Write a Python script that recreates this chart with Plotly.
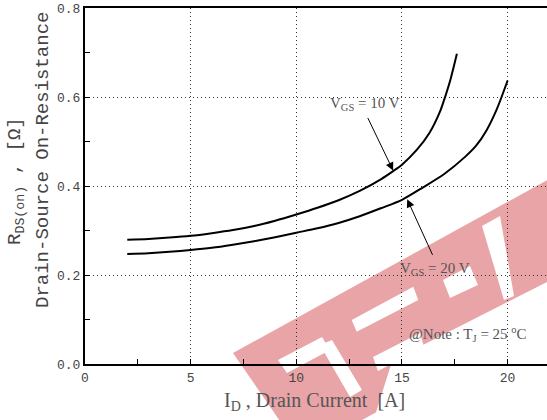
import plotly.graph_objects as go

# ---- data ----
id_10v = [2, 3, 4, 5, 6, 7, 8, 9, 10, 11, 12, 13, 14, 14.6, 15, 15.7, 16.3, 16.8, 17.0, 17.3, 17.6]
rds_10v = [0.279, 0.281, 0.284, 0.288, 0.294, 0.301, 0.310, 0.322, 0.336, 0.351, 0.368, 0.389,
           0.415, 0.434, 0.448, 0.481, 0.519, 0.567, 0.594, 0.640, 0.697]
id_20v = [2, 3, 4, 5, 6, 7, 8, 9, 10, 11, 12, 13, 14, 15, 16, 17, 18, 18.5, 19, 19.5, 20.0]
rds_20v = [0.247, 0.249, 0.252, 0.256, 0.261, 0.268, 0.276, 0.285, 0.295, 0.305, 0.317, 0.332,
           0.350, 0.369, 0.397, 0.427, 0.466, 0.490, 0.525, 0.574, 0.637]
x_ticks = [0, 5, 10, 15, 20]
y_ticks = [0.0, 0.2, 0.4, 0.6, 0.8]

W, H = 547, 420
ML, MR, MT, MB = 85, 0, 8, 56
PW, PH = W - ML - MR, H - MT - MB


def pp(px, py):
    return (px - ML) / PW, (MT + PH - py) / PH


def path(points):
    s = ""
    for i, (a, b) in enumerate(points):
        x, y = pp(a, b)
        s += ("M" if i == 0 else "L") + f"{x:.4f},{y:.4f} "
    return s + "Z"


# watermark decoration (pixel outlines)
wm_band = [(233, 353), (620, 140), (690, 240), (302, 453)]
wm_white = [
    [(351.7, 320), (413.3, 286.7), (418.3, 300), (356.7, 331.7)],
    [(373, 357), (420, 333), (424, 347), (378, 371)],
    [(278, 360), (322, 337), (330, 350), (287, 373)],
    [(320, 345), (332, 340), (362, 390), (350, 397)],
    [(372, 425), (395, 352), (413, 350), (547, 282), (560, 425)],
    [(443, 280), (470, 266), (478, 285), (450, 298)],
    [(482, 226), (500, 216), (514, 296), (504, 300)],
]

fig = go.Figure()
fig.add_trace(go.Scatter(x=id_10v, y=rds_10v, mode="lines",
                         line=dict(color="black", width=2, shape="spline", smoothing=0.8),
                         showlegend=False))
fig.add_trace(go.Scatter(x=id_20v, y=rds_20v, mode="lines",
                         line=dict(color="black", width=2, shape="spline", smoothing=0.8),
                         showlegend=False))

shapes = [dict(type="path", xref="paper", yref="paper", path=path(wm_band), fillcolor="#E9A4A7",
               line=dict(width=0), layer="below")]
for poly in wm_white:
    shapes.append(dict(type="path", xref="paper", yref="paper", path=path(poly), fillcolor="white",
                       line=dict(width=0), layer="below"))

mono = "Liberation Mono"
serif = "Liberation Serif"
grey = "#555555"

annotations = [
    dict(xref="paper", yref="paper", x=pp(43, 0)[0], y=pp(0, 160)[1], text="Drain-Source On-Resistance",
         textangle=-90, showarrow=False, font=dict(family=mono, size=19, color="#444"),
         xanchor="center", yanchor="middle"),
    dict(xref="paper", yref="paper", x=pp(16, 0)[0], y=pp(0, 181)[1], text="R<sub>DS(on)</sub> , [Ω]",
         textangle=-90, showarrow=False, font=dict(family=mono, size=19, color="#444"),
         xanchor="center", yanchor="middle"),
    dict(xref="paper", yref="paper", x=pp(314, 0)[0], y=pp(0, 401)[1],
         text="I<sub>D</sub> , Drain Current  [A]", showarrow=False,
         font=dict(family=serif, size=20, color=grey), xanchor="center", yanchor="middle"),
    dict(xref="paper", yref="paper", x=pp(365, 0)[0], y=pp(0, 104)[1], text="V<sub>GS</sub> = 10 V",
         showarrow=False, font=dict(family=serif, size=15, color=grey), xanchor="center", yanchor="middle"),
    dict(xref="paper", yref="paper", x=pp(435, 0)[0], y=pp(0, 269)[1], text="V<sub>GS</sub> = 20 V",
         showarrow=False, font=dict(family=serif, size=15, color=grey), xanchor="center", yanchor="middle"),
    dict(xref="paper", yref="paper", x=pp(468, 0)[0], y=pp(0, 334)[1],
         text="@Note : T<sub>J</sub> = 25 <sup>o</sup>C",
         showarrow=False, font=dict(family=serif, size=15, color=grey), xanchor="center", yanchor="middle"),
    dict(x=14.58, y=0.435, xref="x", yref="y", text="", showarrow=True, ax=-26, ay=-54,
         arrowhead=2, arrowsize=1.6, arrowwidth=1, arrowcolor="black", standoff=0),
    dict(x=15.25, y=0.370, xref="x", yref="y", text="", showarrow=True, ax=26, ay=57,
         arrowhead=2, arrowsize=1.6, arrowwidth=1, arrowcolor="black", standoff=0),
]

fig.update_layout(
    width=W, height=H, autosize=False,
    margin=dict(l=ML, r=MR, t=MT, b=MB, pad=0),
    paper_bgcolor="white", plot_bgcolor="rgba(0,0,0,0)",
    shapes=shapes, annotations=annotations, showlegend=False,
    xaxis=dict(range=[0, PW / 21.13], tickvals=x_ticks, ticktext=[str(v) for v in x_ticks],
               showgrid=True, gridcolor="#333", griddash="1px,3px", gridwidth=1,
               showline=True, linecolor="black", linewidth=2, mirror=True,
               ticks="inside", ticklen=5, tickcolor="black",
               minor=dict(dtick=2.5, tick0=0, ticks="inside", ticklen=5, tickcolor="black", showgrid=False),
               tickfont=dict(family=mono, size=13, color="#444"), zeroline=False),
    yaxis=dict(range=[0, 0.8], tickvals=y_ticks, ticktext=[f"{v:.1f}" for v in y_ticks],
               showgrid=True, gridcolor="#333", griddash="1px,3px", gridwidth=1,
               showline=True, linecolor="black", linewidth=2,
               ticks="inside", ticklen=5, tickcolor="black",
               minor=dict(dtick=0.1, tick0=0, ticks="inside", ticklen=5, tickcolor="black", showgrid=False),
               tickfont=dict(family=mono, size=13, color="#444"), zeroline=False),
)

fig.write_html("out.html", config={"displayModeBar": False, "staticPlot": True},
               post_script="document.body.style.margin='0';document.body.style.padding='0';"
                           "document.documentElement.style.overflow='hidden';")
